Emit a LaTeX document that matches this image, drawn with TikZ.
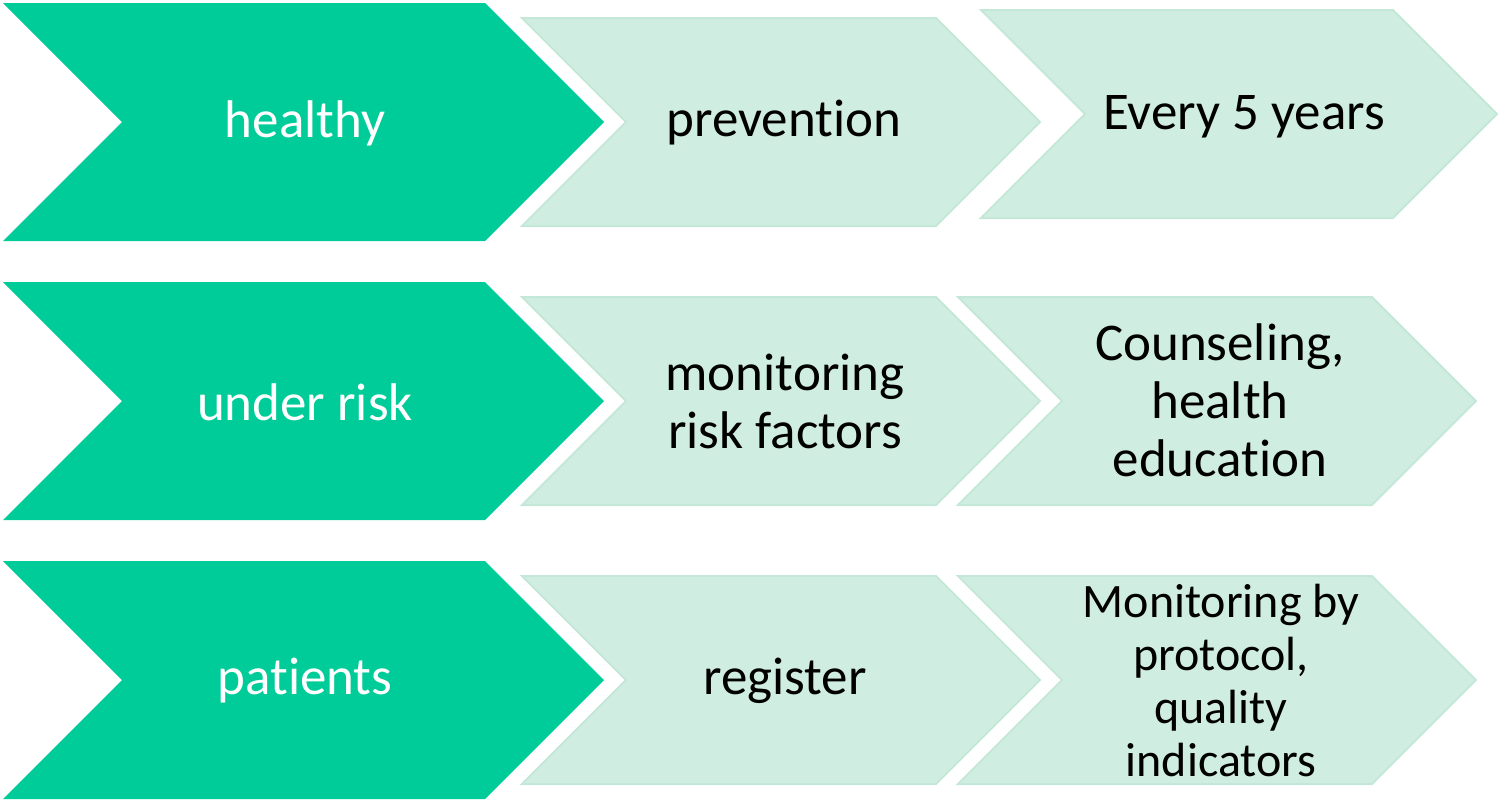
\documentclass[tikz,border=0pt]{standalone}
\usepackage{fontspec}
\setmainfont{Carlito}[Ligatures=NoCommon]
\definecolor{darkgreen}{RGB}{0,204,153}
\definecolor{palegreen}{RGB}{208,237,225}
\definecolor{paleedge}{RGB}{196,232,216}

% chevron: style, left x, top y, top width, half height
\newcommand{\chevron}[5]{%
  \filldraw[#1] (#2,#3) -- ++(#4,0) -- ++(#5,#5) -- ++(-#5,#5) -- ++(-#4,0) -- ++(#5,-#5) -- cycle;}

\begin{document}
\begin{tikzpicture}[x=1pt,y=-1pt,
    mainchev/.style={fill=darkgreen,draw=none},
    stepchev/.style={fill=palegreen,draw=paleedge,line width=2pt},
    mainlbl/.style={text=white,align=center,font=\fontsize{53}{58}\selectfont},
    steplbl/.style={text=black,align=center,font=\fontsize{53}{58}\selectfont}]
  \useasboundingbox (0,0) rectangle (1499,801);

  % row 1
  \chevron{mainchev}{3}{3}{482}{119}
  \chevron{stepchev}{522}{18}{414}{104}
  \chevron{stepchev}{981}{10}{412}{104}
  \node[mainlbl] (healthy)  at (305,123) {healthy};
  \node[steplbl] (prev)     at (784,123) {prevention};
  \node[steplbl] (every)    at (1244,117) {Every 5 years};

  % row 2
  \chevron{mainchev}{3}{282}{482}{119}
  \chevron{stepchev}{522}{297}{414}{104}
  \chevron{stepchev}{958}{297}{414}{104}
  \node[mainlbl] (risk)     at (305,402) {under risk};
  \node[steplbl] (monrisk)  at (785,401) {monitoring\\risk factors};
  \node[steplbl] (counsel)  at (1220,400) {Counseling,\\health\\education};

  % row 3
  \chevron{mainchev}{3}{561}{482}{119}
  \chevron{stepchev}{522}{576}{414}{104}
  \chevron{stepchev}{958}{576}{414}{104}
  \node[mainlbl] (patients) at (305,681) {patients};
  \node[steplbl] (register) at (785,681) {register};
  \node[steplbl,font=\fontsize{48}{53}\selectfont] (monprot) at (1221,680) {Monitoring by\\protocol,\\quality\\indicators};
\end{tikzpicture}
\end{document}
